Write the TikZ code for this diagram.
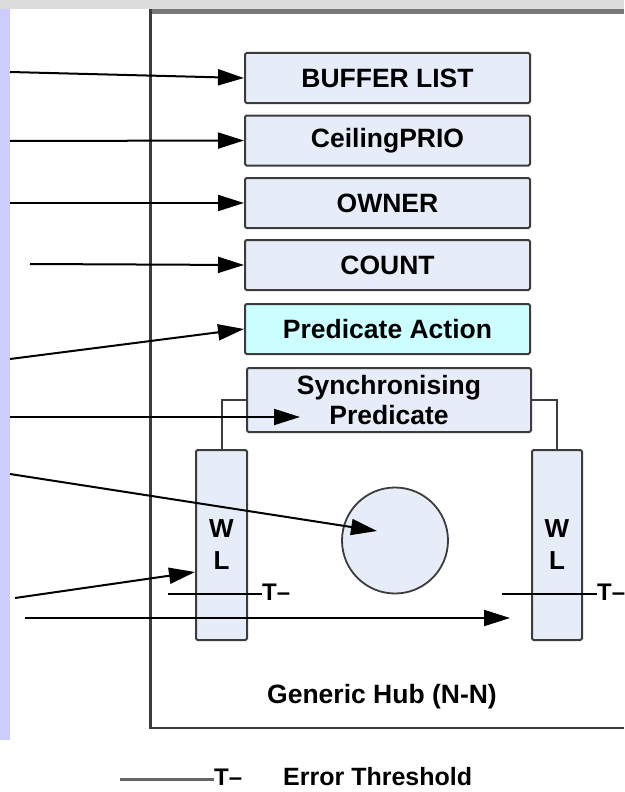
\documentclass[tikz,border=0pt]{standalone}
\usepackage{fontspec}
\setmainfont{Liberation Sans}
\usetikzlibrary{arrows.meta,calc}
\definecolor{boxfill}{RGB}{230,236,248}
\definecolor{actfill}{RGB}{204,255,255}
\definecolor{edge}{RGB}{60,60,60}
\definecolor{frametop}{RGB}{220,220,220}
\definecolor{strip}{RGB}{204,204,255}
\definecolor{hubtop}{RGB}{120,120,120}
\begin{document}
\begin{tikzpicture}[x=1pt,y=-1pt,
  field/.style={draw=edge, line width=2pt, fill=boxfill, rounded corners=1.5pt,
    minimum width=285pt, minimum height=50pt, inner sep=0pt, align=center,
    font=\fontsize{26.5}{30}\selectfont\bfseries},
  wlbox/.style={draw=edge, line width=2pt, fill=boxfill, rounded corners=1.5pt,
    minimum width=51pt, minimum height=190pt, inner sep=0pt, align=center,
    font=\fontsize{26}{32}\selectfont\bfseries},
  feed/.style={line width=2pt, -{Triangle[length=26pt,width=16pt]}},
  tie/.style={line width=2pt, draw=edge},
  thr/.style={line width=2pt},
  thrlabel/.style={font=\fontsize{24}{24}\selectfont\bfseries, inner sep=0pt, anchor=west},
  caption/.style={font=\fontsize{26}{26}\selectfont\bfseries, inner sep=0pt}
]
\useasboundingbox (0,0) rectangle (624,792);

% window frame
\fill[frametop] (0,0) rectangle (624,9);
\fill[strip] (0,9) rectangle (10,740);

% hub outline
\draw[line width=5pt, draw=hubtop] (150,11.5) -- (624,11.5);
\draw[line width=2.5pt, draw=edge] (150.5,9) -- (150.5,728) -- (624,728);
\node[caption, font=\fontsize{26.5}{26.5}\selectfont\bfseries] (hubname) at (382,697) {Generic Hub (N-N)};

% hub fields
\node[field] (buf)  at (387.5,78)    {BUFFER LIST};
\node[field] (ceil) at (387.5,140.5) {CeilingPRIO};
\node[field] (own)  at (387.5,203)   {OWNER};
\node[field] (cnt)  at (387.5,265)   {COUNT};
\node[field, fill=actfill] (act) at (387.5,329) {Predicate Action};
\node[field, minimum width=284pt, minimum height=64pt] (sync) at (389,400) {Synchronising\\Predicate};

% wait lists and pool
\node[wlbox] (wl1) at (221.5,545) {W\\L};
\node[wlbox, minimum width=50pt] (wl2) at (557,545) {W\\L};
\node[circle, draw=edge, line width=1.8pt, fill=boxfill, minimum size=106pt, inner sep=0pt] (pool) at (395,540.5) {};

\draw[tie] (sync.west) -| (wl1.north);
\draw[tie] (sync.east) -| (wl2.north);

% incoming requests
\coordinate (inbuf)  at (10,72);
\coordinate (inceil) at (10,141);
\coordinate (inown)  at (10,203);
\coordinate (incnt)  at (30,264);
\coordinate (inact)  at (10,359);
\coordinate (insync) at (10,417);
\coordinate (inpool) at (10,474);
\coordinate (inwl)   at (15,598);
\coordinate (inlong) at (25,618);
\coordinate (syncin) at (300,417);
\coordinate (poolin) at (377,531);
\coordinate (wlin)   at (195,572);
\coordinate (farin)  at (510,618);

\draw[feed] (inbuf)  -- (buf.west);
\draw[feed] (inceil) -- (ceil.west);
\draw[feed] (inown)  -- (own.west);
\draw[feed] (incnt)  -- (cnt.west);
\draw[feed] (inact)  -- (act.west);
\draw[feed] (insync) -- (syncin);
\draw[feed] (inpool) -- (poolin);
\draw[feed] (inwl)   -- (wlin);
\draw[feed] (inlong) -- (farin);

% error thresholds
\coordinate (thl) at (168,594);
\node[thrlabel] (t1) at (262,592) {T–};
\draw[thr] (thl) -- (thl -| t1.west);
\coordinate (thr2) at (502,594);
\node[thrlabel] (t2) at (597,592) {T–};
\draw[thr] (thr2) -- (thr2 -| t2.west);

% legend
\coordinate (lg) at (120,779);
\node[thrlabel] (lgT) at (214,777) {T–};
\draw[line width=3pt, draw=black!60] (lg) -- (lg -| lgT.west);
\node[caption, font=\fontsize{25}{25}\selectfont\bfseries, anchor=base west] (lgtext) at (283,785.5) {Error Threshold};
\end{tikzpicture}
\end{document}
